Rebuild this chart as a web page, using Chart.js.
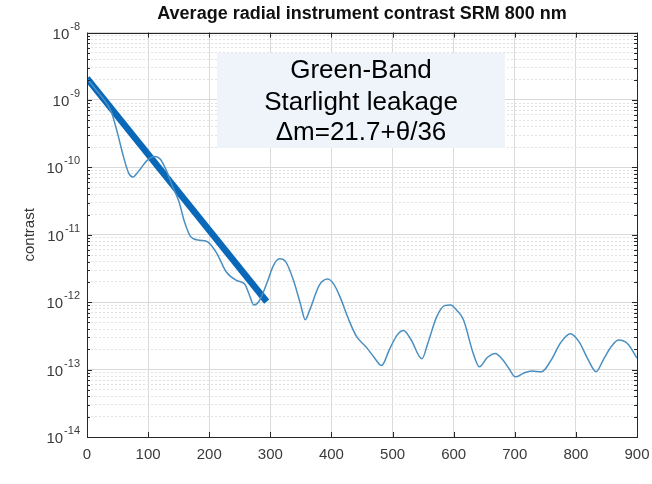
<!DOCTYPE html>
<html lang="en">
  <head>
    <meta charset="UTF-8" />
    <title>Average radial instrument contrast SRM 800 nm</title>
    <script src="https://cdn.jsdelivr.net/npm/chart.js@4.4.0/dist/chart.umd.min.js"></script>
    <style>
      body { margin: 0; background: #fff; }
    </style>
  </head>
  <body>
    <canvas id="myChart" width="652" height="484"></canvas>
    <script>
      /*** data ***/
      // separation angle (x) and measured contrast (y)
      const angles = [0, 15, 30, 40, 50, 60, 68, 75, 85, 98, 110, 120, 130, 140, 150, 160, 170, 185, 198, 212,
        228, 245, 258, 266, 273, 282, 295, 305, 315, 325, 338, 350, 357, 365, 380, 394, 405, 414, 428, 441,
        458, 470, 482, 495, 508, 518, 530, 548, 558, 572, 585, 595, 605, 616, 632, 642, 655, 668, 680, 690,
        701, 715, 728, 744, 760, 775, 791, 805, 820, 833, 845, 858, 870, 885, 900];
      const contrast = [2.1e-9, 1.41e-9, 9.5e-10, 6.6e-10, 3.2e-10, 1.41e-10, 8.3e-11, 7.2e-11, 8.9e-11, 1.26e-10,
        1.45e-10, 1.32e-10, 8.9e-11, 5.2e-11, 3.2e-11, 1.51e-11, 9.3e-12, 8.3e-12, 7.8e-12, 5.4e-12,
        2.8e-12, 2.1e-12, 1.86e-12, 1.26e-12, 9.1e-13, 1.05e-12, 2.0e-12, 3.5e-12, 4.4e-12, 4.0e-12,
        2.1e-12, 8.9e-13, 5.5e-13, 7.9e-13, 1.78e-12, 2.2e-12, 1.78e-12, 1.2e-12, 5.6e-13, 3.1e-13,
        2.1e-13, 1.51e-13, 1.15e-13, 2.0e-13, 3.3e-13, 3.8e-13, 2.8e-13, 1.45e-13, 2.5e-13, 6.0e-13,
        8.9e-13, 9.1e-13, 7.6e-13, 5.5e-13, 1.74e-13, 1.1e-13, 1.51e-13, 1.74e-13, 1.41e-13, 1.05e-13,
        7.8e-14, 8.9e-14, 9.5e-14, 9.3e-14, 1.41e-13, 2.5e-13, 3.4e-13, 2.6e-13, 1.41e-13, 9.3e-14,
        1.41e-13, 2.2e-13, 2.75e-13, 2.4e-13, 1.48e-13];
      // straight leakage fit (thick line)
      const fitAngles = [0, 294];
      const fitContrast = [2.1e-9, 1.02e-12];

      const xTicks = [0, 100, 200, 300, 400, 500, 600, 700, 800, 900];
      const yDecades = [1e-14, 1e-13, 1e-12, 1e-11, 1e-10, 1e-9, 1e-8];
      const yExponents = ["-14", "-13", "-12", "-11", "-10", "-9", "-8"];
      const boxLines = ["Green-Band", "Starlight leakage", "\u0394m=21.7+\u03b8/36"];

      // minor tick positions 2..9 inside every decade
      const yMinor = [];
      yDecades.slice(0, -1).forEach((d) => {
        for (let m = 2; m <= 9; m++) yMinor.push(m * d);
      });
      const yAllTicks = yDecades.concat(yMinor).sort((a, b) => a - b);
      const isMajor = (v) => Math.abs(Math.log10(v) - Math.round(Math.log10(v))) < 1e-6;

      const FONT = "'Liberation Sans', Arial, sans-serif";

      /*** plugins: annotation box, frame with inner ticks, y labels ***/
      const textBox = {
        id: "textBox",
        beforeDatasetsDraw(chart) {
          const c = chart.ctx;
          c.save();
          c.fillStyle = "#eef4f9";
          c.fillRect(217, 53, 288, 95);
          c.fillStyle = "#000";
          c.font = "26px " + FONT;
          c.textAlign = "center";
          c.textBaseline = "alphabetic";
          const baselines = [78, 110, 140];
          boxLines.forEach((t, i) => c.fillText(t, 361, baselines[i]));
          c.restore();
        },
      };

      const frame = {
        id: "frame",
        afterDraw(chart) {
          const c = chart.ctx;
          const a = chart.chartArea;
          const xs = chart.scales.x;
          const ys = chart.scales.y;
          c.save();
          c.strokeStyle = "#262626";
          c.lineWidth = 1;
          c.beginPath();
          xTicks.forEach((v) => {
            const px = Math.round(xs.getPixelForValue(v)) + 0.5;
            c.moveTo(px, a.bottom); c.lineTo(px, a.bottom - 5);
            c.moveTo(px, a.top); c.lineTo(px, a.top + 5);
          });
          yAllTicks.forEach((v) => {
            const py = Math.round(ys.getPixelForValue(v)) + 0.5;
            const len = isMajor(v) ? 5 : 3;
            c.moveTo(a.left, py); c.lineTo(a.left + len, py);
            c.moveTo(a.right, py); c.lineTo(a.right - len, py);
          });
          c.stroke();
          c.strokeRect(Math.round(a.left) + 0.5, Math.round(a.top) + 0.5,
            Math.round(a.right - a.left), Math.round(a.bottom - a.top));

          // y tick labels as 10 with raised exponent
          c.fillStyle = "#3a3a3a";
          c.textAlign = "right";
          c.textBaseline = "alphabetic";
          yDecades.forEach((v, i) => {
            const py = ys.getPixelForValue(v);
            c.font = "11px " + FONT;
            const ew = c.measureText(yExponents[i]).width;
            c.fillText(yExponents[i], 80, py - 3);
            c.font = "15px " + FONT;
            c.fillText("10", 79 - ew, py + 6);
          });
          c.restore();
        },
      };

      const ctx = document.getElementById("myChart").getContext("2d");
      const chart = new Chart(ctx, {
        type: "line",
        data: {
          datasets: [
            {
              label: "contrast",
              data: angles.map((a, i) => ({ x: a, y: contrast[i] })),
              borderColor: "#4a8fc2",
              borderWidth: 1.5,
              pointRadius: 0,
              cubicInterpolationMode: "monotone",
              fill: false,
            },
            {
              label: "leakage",
              data: fitAngles.map((a, i) => ({ x: a, y: fitContrast[i] })),
              borderColor: "#0a68b8",
              borderWidth: 6.5,
              pointRadius: 0,
              fill: false,
            },
          ],
        },
        options: {
          responsive: false,
          animation: false,
          layout: { padding: { left: 0, right: 15, top: 0, bottom: 0 } },
          plugins: {
            legend: { display: false },
            tooltip: { enabled: false },
            title: {
              display: true,
              fullSize: false,
              text: "Average radial instrument contrast SRM 800 nm",
              color: "#111",
              font: { family: FONT, size: 18, weight: "bold" },
              padding: { top: 3, bottom: 8 },
            },
          },
          scales: {
            x: {
              type: "linear",
              min: 0,
              max: 900,
              afterBuildTicks: (s) => { s.ticks = xTicks.map((v) => ({ value: v })); },
              afterFit: (s) => { s.height = 47; s.paddingLeft = 0; s.paddingRight = 0; },
              ticks: { color: "#3a3a3a", font: { family: FONT, size: 15 }, padding: 9, maxRotation: 0 },
              grid: { color: "#dadada", drawTicks: false },
              border: { display: false },
            },
            y: {
              type: "logarithmic",
              position: "left",
              min: 1e-14,
              max: 1e-8,
              afterBuildTicks: (s) => { s.ticks = yAllTicks.map((v) => ({ value: v })); },
              afterFit: (s) => { s.width = 87; },
              ticks: { display: false },
              grid: {
                drawTicks: false,
                color: (c) => (c.tick && isMajor(c.tick.value) ? "#d9d9d9" : "rgba(0,0,0,0)"),
              },
              border: { display: false },
              title: {
                display: true,
                text: "contrast",
                color: "#333",
                font: { family: FONT, size: 15 },
                padding: { top: 21, bottom: 0 },
              },
            },
            yMinorGrid: {
              type: "logarithmic",
              position: "left",
              min: 1e-14,
              max: 1e-8,
              afterBuildTicks: (s) => { s.ticks = yAllTicks.map((v) => ({ value: v })); },
              afterFit: (s) => { s.width = 0; },
              ticks: { display: false },
              grid: {
                drawTicks: false,
                color: (c) => (c.tick && !isMajor(c.tick.value) ? "#e2e2e2" : "rgba(0,0,0,0)"),
              },
              border: { display: false, dash: [2, 2] },
            },
          },
        },
        plugins: [textBox, frame],
      });
    </script>
  </body>
</html>
